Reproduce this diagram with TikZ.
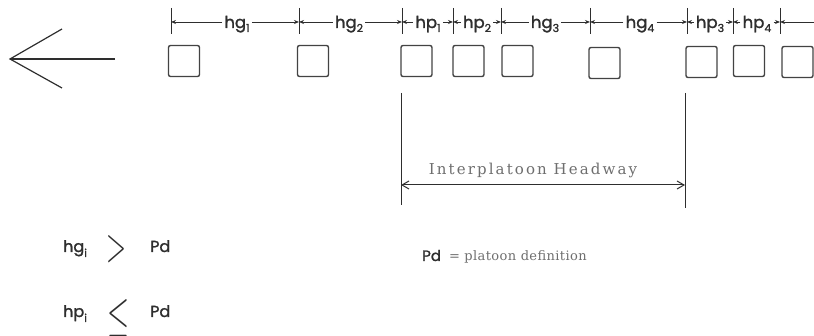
\documentclass[tikz,border=0pt]{standalone}
\usepackage{fontspec}
\usetikzlibrary{arrows.meta}
\newfontfamily\geo{Poppins}[FakeBold=1.5]
\newfontfamily\wserif{DejaVu Serif}[LetterSpace=14]
\newfontfamily\nserif{DejaVu Serif}[LetterSpace=3]
\definecolor{ink}{HTML}{2E2E2E}
\definecolor{faded}{HTML}{6E6E6E}
\newcommand\hlab[2]{#1\raisebox{-4pt}{\fontsize{11}{11}\selectfont #2}}
\begin{document}
\begin{tikzpicture}[x=1pt,y=-1pt,
  car/.style={draw=ink!90, line width=1.4pt, rounded corners=2pt, minimum width=31pt, minimum height=31pt, inner sep=0pt},
  tickline/.style={draw=ink, line width=1pt},
  dimlab/.style={font={\geo\fontsize{16.5}{16.5}\selectfont}, inner sep=2pt, text=ink},
  dimline/.style={draw=ink, line width=0.9pt, -{Stealth[length=5pt,width=4pt]}},
  bigline/.style={draw=ink, line width=1.2pt},
  faded text/.style={font={\wserif\fontsize{15}{15}\selectfont}, text=faded},
  geo text/.style={font={\geo\fontsize{16}{16}\selectfont}, text=ink, inner sep=0pt},
  ]
\useasboundingbox (0,0) rectangle (814,336);
% direction arrow
\coordinate (atip) at (10,59);
\coordinate (atail) at (115,59);
\coordinate (aup) at (62,29);
\coordinate (alo) at (62,88);
\draw[bigline] (atail) -- (atip);
\draw[bigline] (aup) -- (atip) -- (alo);
% ticks
\foreach \i/\x in {1/171,2/299,3/402,4/453,5/501,6/590,7/687,8/733,9/780} {
  \coordinate (d\i) at (\x,22);
  \draw[tickline] (\x,8) -- (\x,34);
}
\coordinate (dend) at (814,22);
% labels
\node[dimlab, anchor=base] (l1) at (237,28) {\hlab{hg}{1}};
\node[dimlab, anchor=base] (l2) at (349,28) {\hlab{hg}{2}};
\node[dimlab, anchor=base] (l3) at (428,28) {\hlab{hp}{1}};
\node[dimlab, anchor=base] (l4) at (477,28) {\hlab{hp}{2}};
\node[dimlab, anchor=base] (l5) at (545,28) {\hlab{hg}{3}};
\node[dimlab, anchor=base] (l6) at (640,28) {\hlab{hg}{4}};
\node[dimlab, anchor=base] (l7) at (710,28) {\hlab{hp}{3}};
\node[dimlab, anchor=base] (l8) at (757,28) {\hlab{hp}{4}};
\foreach \n/\a/\b in {1/1/2,2/2/3,3/3/4,4/4/5,5/5/6,6/6/7,7/7/8,8/8/9} {
  \draw[dimline] (l\n.west |- d\a) -- (d\a);
  \draw[dimline] (l\n.east |- d\a) -- (d\b);
}
\draw[dimline] (dend) -- (d9);
% vehicles
\node[car] (c1) at (184,61) {};
\node[car] (c2) at (313,61) {};
\node[car] (c3) at (416.5,61) {};
\node[car] (c4) at (468.5,61) {};
\node[car] (c5) at (517.5,61) {};
\node[car] (c6) at (604.5,63) {};
\node[car] (c7) at (701.5,62) {};
\node[car] (c8) at (749,61) {};
\node[car] (c9) at (797.5,62) {};
% interplatoon headway
\coordinate (v1t) at (401,93);
\coordinate (v1b) at (401,205);
\coordinate (v2t) at (685,93);
\coordinate (v2b) at (685,208);
\draw[bigline, line width=1pt] (v1t) -- (v1b);
\draw[bigline, line width=1pt] (v2t) -- (v2b);
\coordinate (h1) at (401,185);
\coordinate (h2) at (685,185);
\draw[draw=ink, line width=1pt, {Straight Barb[length=7pt,width=8pt]}-{Straight Barb[length=7pt,width=8pt]}] (h1) -- (h2);
\node[faded text] (ih) at (533,170) {Interplatoon Headway};
% definitions
\node[geo text, anchor=base west] (pd) at (422,261) {\fontsize{15}{15}\selectfont Pd\hspace{8pt}{\nserif\color{faded}\fontsize{13}{13}\selectfont{}= platoon definition}};
\node[geo text, anchor=base west] (hgi) at (63,252) {hg\raisebox{-5pt}{\fontsize{11}{11}\selectfont i}};
\node[geo text, inner sep=0pt] (gt) at (117,249) {\resizebox{20pt}{26pt}{$>$}};
\node[geo text, anchor=base west] (pd1) at (150,252) {Pd};
\node[geo text, anchor=base west] (hpi) at (63,317) {hp\raisebox{-5pt}{\fontsize{11}{11}\selectfont i}};
\node[geo text, inner sep=0pt] (le) at (118,318) {\resizebox{22pt}{31pt}{$\leq$}};
\node[geo text, anchor=base west] (pd2) at (150,317) {Pd};
\end{tikzpicture}
\end{document}
